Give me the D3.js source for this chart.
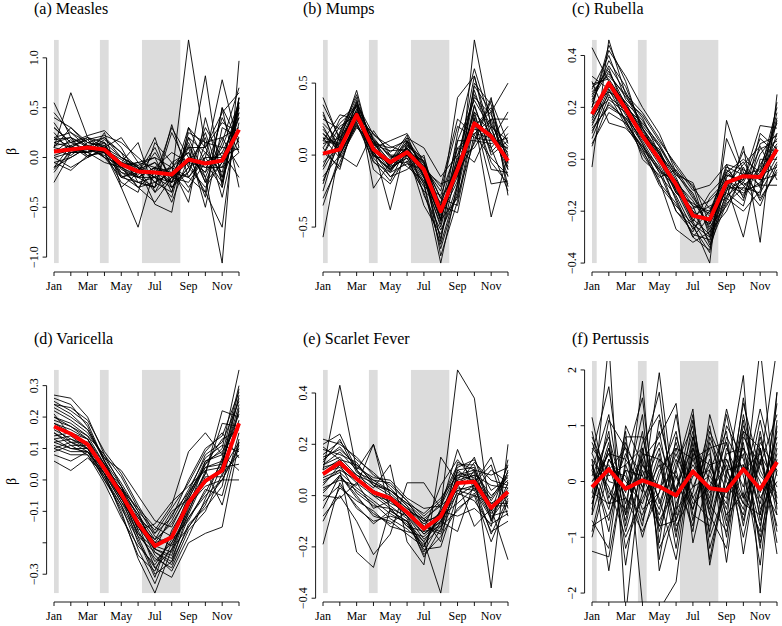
<!DOCTYPE html>
<html>
<head>
<meta charset="utf-8">
<script src="https://cdn.jsdelivr.net/npm/d3@7"></script>
<style>
  body { margin: 0; background: #fff; }
  svg { display: block; }
</style>
</head>
<body>
<svg id="chart" width="782" height="626" font-family="'Liberation Serif', 'Times New Roman', Times, 'DejaVu Serif', serif"></svg>
<script>
// ---------------- DATA ----------------
const months = ["Jan","Feb","Mar","Apr","May","Jun","Jul","Aug","Sep","Oct","Nov","Dec"];
const titles = ["(a) Measles","(b) Mumps","(c) Rubella","(d) Varicella","(e) Scarlet Fever","(f) Pertussis"];
// school holiday periods, in month units (Jan = 0)
const holidays = [[0, 0.28], [2.73, 3.25], [5.23, 7.51]];

const yTicks = [
  [-1, -0.5, 0, 0.5, 1],
  [-0.5, 0, 0.5],
  [-0.4, -0.2, 0, 0.2, 0.4],
  [-0.3, -0.2, -0.1, 0, 0.1, 0.2, 0.3],
  [-0.4, -0.2, 0, 0.2, 0.4],
  [-2, -1, 0, 1, 2]
];
const yTickLabels = [
  ["\u22121.0", "\u22120.5", "0.0", "0.5", "1.0"],
  ["\u22120.5", "0.0", "0.5"],
  ["\u22120.4", "\u22120.2", "0.0", "0.2", "0.4"],
  ["\u22120.3", "", "\u22120.1", "0.0", "0.1", "0.2", "0.3"],
  ["\u22120.4", "\u22120.2", "0.0", "0.2", "0.4"],
  ["\u22122", "\u22121", "0", "1", "2"]
];
// explicit y limits (null = range of the data)
const yLimits = [null, null, null, null, null, [-2, 2]];

const measlesMean = [0.06,0.08,0.10,0.08,-0.07,-0.14,-0.15,-0.17,-0.02,-0.06,-0.03,0.28];
const measles = [
  [0.10,0.65,0.20,0.10,-0.05,-0.20,-0.10,-0.25,0.00,-0.10,0.05,0.40],
  [0.55,0.20,0.10,0.05,-0.10,-0.30,-0.45,-0.20,1.18,0.10,-0.20,0.20],
  [-0.25,0.05,0.05,0.15,-0.20,-0.15,0.20,-0.30,-0.10,0.82,-0.30,0.55],
  [0.40,0.30,0.15,0.20,0.00,-0.10,-0.20,-0.10,-0.20,0.00,0.78,0.10],
  [0.05,0.10,0.05,0.10,-0.10,-0.20,-0.20,-0.40,0.20,-0.20,-1.06,0.97],
  [0.00,-0.10,0.00,0.25,-0.30,-0.70,-0.10,-0.15,-0.05,-0.35,-0.70,0.60],
  [0.30,0.15,0.20,0.05,-0.05,-0.10,-0.47,-0.55,0.30,0.10,0.45,0.65],
  [-0.10,0.00,0.10,0.00,-0.15,-0.25,-0.30,0.33,-0.20,-0.35,0.50,-0.30],
  [0.20,0.25,0.15,0.10,0.20,-0.05,0.00,-0.10,-0.45,0.40,-0.20,0.50],
  [0.10,0.05,0.08,0.05,-0.05,-0.15,0.10,-0.25,0.10,-0.50,0.30,0.20],
  [0.35,0.10,0.05,0.12,-0.12,-0.20,-0.30,0.25,-0.10,0.00,-0.25,0.45],
  [-0.15,0.08,0.12,0.15,0.00,-0.08,-0.25,-0.35,0.25,0.15,0.10,0.55],
  [0.15,0.20,0.00,0.08,-0.20,-0.12,-0.05,-0.20,-0.05,-0.10,-0.10,0.05],
  [0.05,0.12,0.18,0.00,-0.08,-0.30,-0.15,-0.10,0.05,-0.20,0.20,0.30],
  [0.25,0.05,0.10,0.20,0.05,-0.10,-0.20,-0.30,-0.15,0.30,0.00,0.10],
  [-0.05,-0.13,0.02,0.05,-0.25,-0.35,0.15,-0.05,-0.30,-0.05,-0.30,0.60],
  [0.12,0.15,0.22,0.27,0.10,-0.20,-0.10,-0.45,0.00,-0.15,0.40,0.05],
  [0.00,0.05,0.05,-0.05,-0.10,-0.05,-0.25,-0.15,-0.20,0.05,-0.15,0.50],
  [0.45,0.25,0.10,0.10,-0.05,0.15,-0.35,-0.20,0.15,-0.25,0.15,0.70],
  [0.08,0.02,0.15,0.12,-0.15,-0.20,-0.10,0.05,-0.05,0.20,-0.40,0.35],
  [-0.10,0.12,0.00,0.10,0.00,-0.10,-0.20,-0.25,0.30,-0.05,0.05,-0.20],
  [0.18,0.20,0.12,0.05,-0.30,-0.15,-0.05,-0.30,-0.10,-0.30,-0.05,0.55],
  [0.02,0.08,0.06,0.18,0.05,-0.25,-0.30,-0.10,0.10,0.10,0.35,0.25],
  [0.30,0.15,0.08,0.02,-0.10,-0.18,0.05,-0.20,-0.25,0.00,0.00,0.45],
  [-0.05,0.00,0.10,0.08,-0.02,-0.12,-0.35,-0.05,0.05,-0.40,0.50,0.15],
  [0.20,0.10,0.18,0.22,0.15,0.00,-0.15,-0.25,-0.15,0.25,-0.25,0.60],
  [0.10,0.30,0.12,0.00,-0.20,-0.25,-0.20,0.30,0.00,-0.15,0.10,0.08],
  [-0.12,0.05,0.05,0.10,-0.05,-0.08,0.00,-0.35,0.20,0.05,-0.10,0.40],
  [0.15,0.10,0.20,0.15,-0.18,-0.30,-0.25,-0.15,-0.35,0.15,0.20,-0.10],
  [0.05,0.18,0.02,0.05,-0.08,-0.05,-0.10,-0.18,0.12,-0.25,-0.05,0.52]
];

const mumpsMean = [0.01,0.04,0.28,0.04,-0.05,0.02,-0.10,-0.39,-0.10,0.22,0.13,-0.04];
const mumps = [
  [0.40,0.10,0.35,0.10,-0.05,0.05,-0.15,-0.45,-0.30,0.80,0.20,0.10],
  [-0.57,0.05,0.30,0.00,-0.10,0.00,-0.10,-0.40,-0.10,0.30,0.15,-0.05],
  [0.10,0.28,0.25,0.05,-0.38,0.10,-0.05,-0.35,0.40,0.55,0.05,-0.25],
  [0.20,0.00,-0.08,0.17,0.00,0.00,-0.20,-0.75,-0.20,0.25,-0.43,0.00],
  [-0.20,0.15,0.40,-0.23,-0.05,0.05,-0.10,-0.60,0.10,0.10,0.40,-0.28],
  [0.05,-0.10,0.30,0.05,0.10,0.15,-0.05,-0.30,-0.10,0.20,0.30,0.50],
  [0.15,0.05,0.25,0.10,-0.10,0.05,-0.15,-0.50,-0.05,0.45,0.10,0.05],
  [-0.10,0.10,0.45,0.00,-0.05,-0.05,-0.25,-0.35,-0.40,0.15,0.25,-0.10],
  [0.00,0.20,0.28,0.08,0.05,0.10,-0.10,-0.20,-0.15,0.35,0.00,0.10],
  [0.30,0.00,0.20,0.02,-0.15,-0.10,0.00,-0.45,0.05,-0.05,0.20,-0.15],
  [0.12,0.08,0.32,0.12,-0.02,0.03,-0.35,-0.55,-0.20,0.50,0.35,-0.05],
  [-0.30,-0.05,0.22,-0.05,-0.12,0.05,-0.08,-0.25,0.20,0.12,0.10,0.30],
  [0.08,0.12,0.38,0.06,-0.08,-0.02,-0.20,-0.65,-0.25,0.28,-0.05,-0.20],
  [0.18,0.03,0.27,0.15,0.02,0.12,0.05,-0.15,0.00,0.40,0.28,0.00],
  [-0.05,0.06,0.35,-0.10,-0.20,0.00,-0.12,-0.40,-0.05,0.18,0.15,-0.10],
  [0.25,0.18,0.30,0.03,-0.06,0.08,-0.06,-0.30,-0.35,0.22,0.05,0.20],
  [-0.15,0.00,0.24,0.10,0.00,-0.08,-0.18,-0.48,0.15,0.60,0.22,-0.02],
  [0.05,0.22,0.33,0.00,-0.10,0.06,-0.02,-0.38,-0.12,0.08,0.38,0.08],
  [0.35,0.12,0.28,0.08,-0.04,0.14,-0.15,-0.58,-0.08,0.30,-0.10,-0.12],
  [0.02,-0.08,0.26,-0.02,-0.15,-0.04,-0.22,-0.28,0.05,0.15,0.12,0.02],
  [-0.25,0.14,0.36,0.14,0.06,0.02,-0.04,-0.42,-0.18,0.48,0.30,-0.22],
  [0.15,0.02,0.21,0.04,-0.08,0.10,-0.28,-0.52,-0.28,0.10,0.08,0.12],
  [-0.08,0.16,0.42,0.02,-0.12,-0.06,-0.10,-0.36,0.10,0.38,0.18,-0.08],
  [0.10,0.07,0.29,0.07,0.03,0.04,-0.14,-0.44,-0.02,0.05,0.25,0.25],
  [-0.35,0.00,0.23,-0.04,-0.18,0.07,-0.06,-0.70,-0.32,0.26,-0.20,-0.18],
  [0.22,0.10,0.31,0.11,-0.01,0.00,-0.18,-0.33,-0.06,0.55,0.13,0.04],
  [0.00,0.25,0.34,0.03,-0.07,0.12,-0.12,-0.46,0.00,0.20,0.33,-0.06],
  [0.12,-0.02,0.19,0.09,-0.09,-0.02,-0.26,-0.62,-0.22,0.34,0.02,0.15],
  [-0.18,0.09,0.27,-0.01,-0.03,0.09,-0.08,-0.22,0.25,0.14,-0.02,-0.14],
  [0.28,0.04,0.37,0.05,-0.11,0.01,-0.16,-0.40,-0.15,0.42,0.20,0.06]
];

const rubellaMean = [0.174,0.294,0.194,0.09,0.0,-0.097,-0.217,-0.232,-0.09,-0.065,-0.068,0.039];
const rubella = [
  [0.43,0.30,0.22,0.10,0.02,-0.10,-0.20,-0.25,-0.05,-0.10,-0.05,0.05],
  [-0.03,0.46,0.25,0.12,0.00,-0.12,-0.25,-0.40,0.15,-0.05,-0.10,0.10],
  [0.30,0.14,0.12,0.05,-0.05,-0.08,-0.18,-0.20,-0.10,-0.30,0.00,0.00],
  [0.20,0.42,0.32,0.20,0.10,-0.05,-0.10,-0.30,-0.15,0.05,-0.32,0.25],
  [0.15,0.28,0.20,0.08,-0.02,-0.15,-0.30,-0.35,-0.12,-0.08,0.13,0.12],
  [0.25,0.35,0.18,0.06,-0.05,-0.20,-0.28,-0.15,-0.08,-0.12,-0.10,-0.10],
  [0.10,0.26,0.22,0.15,0.05,-0.05,-0.15,-0.22,-0.05,0.00,-0.05,0.20],
  [0.05,0.22,0.15,0.02,-0.08,-0.27,-0.32,-0.28,-0.20,-0.05,-0.15,-0.05],
  [0.28,0.32,0.25,0.18,0.08,-0.03,-0.12,-0.10,-0.02,-0.15,-0.02,0.08],
  [0.18,0.30,0.14,0.04,-0.10,-0.18,-0.25,-0.30,-0.10,-0.02,0.05,-0.08],
  [0.22,0.38,0.28,0.12,0.03,-0.08,-0.22,-0.18,-0.15,-0.20,-0.12,0.15],
  [0.12,0.20,0.16,0.08,0.04,-0.12,-0.20,-0.32,-0.06,-0.08,0.08,0.02],
  [0.32,0.27,0.20,0.14,0.06,-0.06,-0.09,-0.25,-0.12,0.03,-0.08,0.18],
  [0.08,0.24,0.19,0.00,-0.06,-0.14,-0.27,-0.20,-0.04,-0.10,-0.18,-0.02],
  [0.26,0.33,0.24,0.16,0.02,-0.09,-0.16,-0.26,-0.18,-0.06,-0.04,0.06],
  [0.16,0.29,0.17,0.07,-0.04,-0.11,-0.24,-0.34,-0.08,-0.14,0.02,0.10],
  [0.20,0.44,0.30,0.10,0.00,-0.16,-0.30,-0.22,-0.02,-0.04,-0.08,-0.06],
  [0.14,0.25,0.13,0.03,-0.07,-0.04,-0.14,-0.28,-0.14,-0.09,-0.14,0.22],
  [0.29,0.31,0.21,0.11,0.01,-0.13,-0.19,-0.16,-0.09,-0.16,0.10,0.04],
  [0.06,0.18,0.14,0.05,-0.03,-0.20,-0.26,-0.36,0.08,-0.07,-0.06,-0.03],
  [0.24,0.36,0.26,0.13,0.05,-0.07,-0.21,-0.24,-0.11,-0.11,-0.03,0.14],
  [0.17,0.23,0.18,0.09,-0.01,-0.10,-0.23,-0.29,-0.07,-0.01,-0.11,0.01],
  [0.27,0.40,0.23,0.17,0.07,-0.02,-0.11,-0.19,-0.13,-0.18,0.06,0.09],
  [0.11,0.21,0.16,0.06,-0.09,-0.17,-0.29,-0.31,-0.16,-0.03,-0.16,-0.04],
  [0.19,0.29,0.19,0.08,0.00,-0.13,-0.17,-0.21,-0.03,-0.06,-0.07,0.16],
  [0.23,0.34,0.21,0.12,0.02,-0.06,-0.13,-0.27,-0.10,-0.13,-0.09,0.03],
  [0.13,0.27,0.15,0.04,-0.04,-0.09,-0.24,-0.13,-0.06,-0.09,0.04,0.07],
  [0.21,0.26,0.20,0.10,0.03,-0.11,-0.18,-0.33,-0.17,-0.11,-0.13,-0.01]
];

const varicellaMean = [0.17,0.147,0.113,0.036,-0.045,-0.138,-0.21,-0.182,-0.072,-0.003,0.03,0.18];
const varicella = [
  [0.27,0.26,0.20,0.08,-0.02,-0.12,-0.20,-0.18,-0.05,0.05,0.10,0.35],
  [0.06,0.03,0.07,0.02,-0.06,-0.15,-0.22,-0.25,-0.12,-0.05,0.00,0.10],
  [0.25,0.22,0.18,0.06,-0.04,-0.18,-0.30,-0.26,-0.15,-0.08,0.05,0.29],
  [0.12,0.13,0.10,0.04,-0.02,-0.10,-0.16,-0.08,0.09,0.15,0.08,0.03],
  [0.20,0.18,0.14,0.05,-0.05,-0.20,-0.28,-0.31,-0.20,-0.17,-0.15,0.12],
  [0.15,0.12,0.10,0.00,-0.08,-0.22,-0.33,-0.20,-0.10,0.02,0.22,0.20],
  [0.23,0.20,0.16,0.07,0.03,-0.05,-0.13,-0.15,-0.04,0.08,0.12,0.25],
  [0.10,0.08,0.08,0.01,-0.10,-0.25,-0.36,-0.22,-0.08,-0.02,0.00,0.00],
  [0.18,0.16,0.13,0.03,-0.06,-0.14,-0.19,-0.10,-0.06,0.04,0.06,0.22],
  [0.13,0.10,0.09,0.02,-0.07,-0.17,-0.25,-0.28,-0.16,-0.10,0.02,0.08],
  [0.24,0.23,0.19,0.09,0.02,-0.08,-0.17,-0.12,0.00,0.10,0.14,0.28],
  [0.09,0.11,0.08,-0.01,-0.12,-0.21,-0.27,-0.19,-0.13,-0.03,-0.05,0.15],
  [0.21,0.14,0.12,0.04,-0.03,-0.11,-0.22,-0.24,-0.09,0.06,0.09,0.18],
  [0.14,0.15,0.11,0.05,-0.04,-0.16,-0.14,-0.07,-0.02,0.03,0.04,0.05],
  [0.26,0.24,0.17,0.06,-0.05,-0.13,-0.24,-0.29,-0.18,-0.06,0.07,0.26],
  [0.11,0.09,0.09,0.00,-0.09,-0.19,-0.31,-0.16,-0.07,0.00,0.03,0.12],
  [0.19,0.17,0.14,0.08,0.01,-0.09,-0.18,-0.21,-0.11,0.01,0.01,0.19],
  [0.16,0.13,0.11,0.03,-0.03,-0.13,-0.20,-0.13,-0.03,0.07,0.11,0.09],
  [0.22,0.19,0.15,0.07,-0.01,-0.10,-0.23,-0.27,-0.14,-0.09,-0.02,0.23],
  [0.08,0.06,0.09,0.02,-0.11,-0.24,-0.29,-0.17,-0.06,0.05,0.13,0.16],
  [0.17,0.12,0.12,0.04,-0.05,-0.15,-0.21,-0.23,-0.08,-0.01,0.04,0.27],
  [0.13,0.14,0.10,0.03,-0.06,-0.12,-0.17,-0.09,-0.01,0.09,0.15,0.07],
  [0.24,0.21,0.16,0.06,-0.02,-0.16,-0.26,-0.20,-0.12,-0.04,0.06,0.21],
  [0.12,0.10,0.10,0.01,-0.08,-0.18,-0.23,-0.26,-0.10,0.03,-0.08,0.13],
  [0.20,0.17,0.13,0.05,-0.04,-0.11,-0.19,-0.14,-0.05,0.06,0.08,0.30],
  [0.15,0.11,0.11,0.02,-0.07,-0.14,-0.28,-0.22,-0.15,-0.07,0.00,0.11],
  [0.18,0.15,0.13,0.04,-0.03,-0.09,-0.15,-0.18,-0.07,0.02,0.18,0.17],
  [0.10,0.12,0.09,0.03,-0.05,-0.17,-0.22,-0.11,-0.04,0.04,0.05,0.24]
];

const scarletMean = [0.084,0.129,0.065,0.013,-0.01,-0.065,-0.129,-0.081,0.049,0.054,-0.048,0.015];
const scarlet = [
  [0.10,0.43,0.10,0.00,-0.05,-0.08,-0.15,-0.10,0.05,0.08,-0.05,0.00],
  [-0.19,0.05,-0.05,-0.10,-0.08,-0.10,-0.20,-0.05,0.49,0.38,-0.10,0.05],
  [0.20,0.24,0.10,0.20,0.00,-0.05,-0.10,-0.08,0.10,0.05,0.15,-0.05],
  [0.05,0.10,-0.22,-0.28,-0.05,-0.12,-0.18,-0.38,0.00,0.10,-0.36,0.20],
  [0.12,0.15,0.08,0.03,0.12,-0.18,-0.27,0.15,0.05,-0.12,-0.05,-0.25],
  [-0.08,0.00,-0.10,-0.23,-0.15,0.05,0.05,-0.05,0.18,0.02,0.10,0.05],
  [0.15,0.18,0.12,0.05,0.02,-0.04,-0.14,-0.12,0.08,0.10,-0.02,0.08],
  [0.00,-0.01,0.05,-0.05,-0.02,-0.08,-0.22,-0.10,-0.14,0.05,0.12,-0.08],
  [0.22,0.20,0.15,0.08,0.04,-0.02,-0.08,-0.02,0.12,0.12,-0.06,0.12],
  [0.08,0.12,0.06,0.02,-0.03,-0.06,-0.12,-0.15,0.02,0.00,-0.18,-0.02],
  [-0.05,0.08,0.00,-0.08,-0.10,-0.15,-0.20,-0.06,0.06,0.08,0.04,0.03],
  [0.13,0.22,0.09,0.06,0.02,-0.03,-0.09,-0.18,0.10,0.11,-0.10,0.10],
  [0.03,0.06,0.04,0.20,-0.06,-0.10,-0.18,-0.08,-0.03,0.03,-0.08,-0.06],
  [0.18,0.16,0.13,0.04,0.00,-0.07,-0.13,0.04,0.14,0.06,-0.03,0.01],
  [0.10,0.14,0.07,0.01,-0.04,-0.09,-0.24,-0.13,0.04,0.13,0.06,0.04],
  [-0.10,0.03,-0.02,-0.06,-0.12,-0.14,-0.16,-0.10,0.01,-0.02,-0.12,0.14],
  [0.14,0.19,0.11,0.07,0.06,-0.01,-0.05,-0.04,0.09,0.07,-0.04,-0.04],
  [0.06,0.09,0.03,-0.02,-0.07,-0.11,-0.21,-0.20,0.00,0.04,-0.07,0.02],
  [0.11,0.13,0.08,0.05,0.01,-0.05,-0.11,-0.07,0.07,0.09,0.00,0.06],
  [0.02,0.07,0.02,-0.03,-0.09,-0.13,-0.19,-0.12,-0.06,0.01,-0.14,-0.10],
  [0.16,0.21,0.14,0.09,0.03,-0.04,-0.10,-0.03,0.11,0.14,0.02,0.07],
  [0.09,0.11,0.05,0.00,-0.02,-0.07,-0.15,-0.09,0.03,0.02,-0.09,0.00],
  [-0.02,0.04,-0.04,-0.11,-0.06,-0.10,-0.23,-0.16,-0.05,0.00,-0.03,-0.03],
  [0.12,0.17,0.10,0.04,0.02,-0.03,-0.07,-0.01,0.08,0.06,-0.01,0.09],
  [0.07,0.10,0.06,0.02,-0.01,-0.08,-0.17,-0.11,0.06,0.15,-0.06,0.03],
  [0.04,0.12,0.01,-0.04,-0.05,-0.12,-0.14,-0.06,-0.08,-0.05,-0.11,-0.07],
  [0.19,0.14,0.12,0.06,0.05,-0.02,-0.12,-0.14,0.13,0.10,0.08,0.11],
  [0.01,0.08,-0.01,-0.07,-0.11,-0.06,-0.09,-0.04,0.02,0.04,-0.15,-0.01]
];

const pertussisMean = [-0.10,0.22,-0.13,0.02,-0.09,-0.25,0.18,-0.12,-0.16,0.22,-0.14,0.35];
const pertussis = [
  [1.15,-0.30,0.50,-0.20,1.95,-0.50,0.80,-0.40,1.20,-0.30,2.40,-0.50],
  [-1.25,-1.35,0.30,0.60,-0.80,0.20,1.30,-1.50,0.10,1.90,-2.00,1.60],
  [0.50,1.70,-0.60,1.80,-1.60,-0.40,0.40,0.60,-1.45,0.80,0.30,2.40],
  [-0.60,2.50,-2.40,0.40,0.80,1.40,-1.10,0.20,0.90,-1.30,0.60,-1.10],
  [0.30,-0.50,0.90,-2.20,-2.30,-1.80,0.60,-0.30,1.30,0.10,-1.00,0.40],
  [-0.20,0.90,-1.50,0.50,1.60,-0.80,-0.20,1.00,-0.70,1.50,-0.50,0.00],
  [0.80,0.10,0.30,-0.50,-0.20,1.20,-0.60,-0.80,0.40,-0.40,1.10,-0.30],
  [-0.90,0.40,-0.20,1.20,-1.40,0.30,1.00,-1.20,-0.10,0.60,-0.60,1.40],
  [0.20,-0.70,0.70,-0.10,0.60,-0.90,0.20,0.50,-1.00,1.20,-0.20,0.80],
  [-0.40,0.60,-0.90,0.20,-0.50,0.60,-0.40,-0.10,0.70,-0.80,0.90,-0.60],
  [0.60,0.20,0.10,-0.80,1.10,-0.20,0.90,-1.40,0.20,0.30,-1.50,1.00],
  [-0.70,-1.20,1.00,0.30,-0.30,-1.40,0.50,0.30,-0.50,1.00,0.10,-0.20],
  [0.10,0.80,-0.40,0.90,-0.90,0.10,-0.80,0.80,0.00,-0.60,0.70,0.20],
  [0.40,-0.10,-1.00,-0.30,0.30,-0.60,1.10,-0.60,1.00,0.40,-0.80,0.60],
  [-0.10,0.50,0.40,1.50,-1.10,0.80,-0.10,0.10,-0.40,1.40,0.20,-0.40],
  [0.90,-0.40,-0.30,-0.60,0.40,-1.20,0.70,-0.90,0.60,-0.10,1.30,0.10],
  [-0.50,1.10,0.60,0.10,-0.60,0.40,-0.50,0.40,-0.80,0.70,-1.20,1.10],
  [0.00,0.30,-0.70,0.70,1.20,-0.30,0.30,-0.20,0.30,-1.00,0.40,-0.80],
  [-0.80,-0.60,0.20,-1.00,0.10,0.90,-0.70,0.70,-0.20,0.90,-0.30,0.30],
  [0.70,0.00,-0.10,0.40,-0.70,-0.10,0.60,-0.50,0.80,0.20,0.50,-0.10],
  [-0.30,0.70,-1.20,-0.20,0.90,-0.70,0.10,0.20,-0.60,-0.20,-0.90,1.60],
  [0.30,-0.90,0.80,0.80,-0.40,0.50,-0.30,-0.70,0.50,0.60,0.00,-0.60],
  [-0.60,0.40,0.00,-0.40,0.50,-1.00,0.80,0.00,-0.30,1.10,-0.70,0.50],
  [0.50,-0.20,-0.50,0.30,-0.10,0.20,-0.90,1.20,0.10,-0.50,0.80,-0.40],
  [-1.00,0.20,0.60,-0.70,0.20,0.60,0.40,-0.40,-0.90,0.30,-0.40,0.90],
  [0.20,1.20,-0.80,0.60,-1.20,-0.50,-0.10,0.60,0.70,-0.70,0.60,-0.90],
  [-0.20,-0.40,0.20,0.10,0.70,-0.20,1.20,-1.00,-0.10,0.50,-1.10,0.20],
  [0.00,0.50,-0.30,-0.90,-0.20,0.70,-0.30,0.30,0.40,-0.30,0.30,1.20],
  [0.40,-1.60,0.40,-0.10,-0.80,-0.70,0.50,-0.60,-1.20,0.90,0.60,-1.30],
  [-0.40,0.60,-0.60,0.50,0.40,0.10,-0.50,0.90,0.20,-0.40,-0.60,0.70]
];

const seriesLines = [measles, mumps, rubella, varicella, scarlet, pertussis];
const seriesMeans = [measlesMean, mumpsMean, rubellaMean, varicellaMean, scarletMean, pertussisMean];

// ---------------- DRAWING ----------------
const FONT = "'Liberation Serif', 'Times New Roman', Times, 'DejaVu Serif', serif";
const svg = d3.select("#chart");
const colStep = 269, rowStep = 330;
const janX0 = 54, decX0 = 239;
const regionTop0 = 31, regionBottom0 = 272;

seriesLines.forEach((lines, p) => {
  const col = p % 3, row = Math.floor(p / 3);
  const x = d3.scaleLinear().domain([0, 11]).range([janX0 + col * colStep, decX0 + col * colStep]);
  const top = regionTop0 + row * rowStep, bottom = regionBottom0 + row * rowStep;
  const leftX = x(-0.44), rightX = x(11.44);

  const all = lines.flat().concat(seriesMeans[p]);
  const dataExt = d3.extent(all);
  const lim = yLimits[p] || dataExt;
  const pad = (lim[1] - lim[0]) * 0.04;
  const y = d3.scaleLinear().domain([lim[0] - pad, lim[1] + pad]).range([bottom, top]);

  const g = svg.append("g");
  const clipId = "clip" + p;
  g.append("clipPath").attr("id", clipId).append("rect")
    .attr("x", leftX).attr("y", top).attr("width", rightX - leftX).attr("height", bottom - top);

  const plot = g.append("g").attr("clip-path", `url(#${clipId})`);
  const gTop = Math.max(y(dataExt[1]), top), gBot = Math.min(y(dataExt[0]), bottom);
  plot.selectAll("rect.hol").data(holidays).enter().append("rect")
    .attr("class", "hol")
    .attr("x", d => x(d[0])).attr("width", d => x(d[1]) - x(d[0]))
    .attr("y", gTop).attr("height", gBot - gTop)
    .attr("fill", "#dcdcdc");

  const line = d3.line().x((d, i) => x(i)).y(d => y(d));
  plot.selectAll("path.prov").data(lines).enter().append("path")
    .attr("class", "prov")
    .attr("d", line).attr("fill", "none")
    .attr("stroke", "#000").attr("stroke-width", 0.9).attr("stroke-linejoin", "miter");
  plot.append("path").datum(seriesMeans[p])
    .attr("d", line).attr("fill", "none")
    .attr("stroke", "#ff0000").attr("stroke-width", 4).attr("stroke-linejoin", "round");

  // x axis
  const ax = g.append("g");
  ax.append("line").attr("x1", x(0)).attr("x2", x(11)).attr("y1", bottom).attr("y2", bottom)
    .attr("stroke", "#000").attr("stroke-width", 0.9);
  months.forEach((m, i) => {
    ax.append("line").attr("x1", x(i)).attr("x2", x(i)).attr("y1", bottom).attr("y2", bottom + 4)
      .attr("stroke", "#000").attr("stroke-width", 0.9);
    if (i % 2 === 0) {
      ax.append("text").attr("x", x(i)).attr("y", bottom + 18)
        .attr("font-family", FONT)
        .attr("text-anchor", "middle").attr("font-size", 12).text(m);
    }
  });

  // y axis
  const ticks = yTicks[p];
  const ay = g.append("g");
  ay.append("line").attr("x1", leftX).attr("x2", leftX)
    .attr("y1", y(ticks[0])).attr("y2", y(ticks[ticks.length - 1]))
    .attr("stroke", "#000").attr("stroke-width", 0.9);
  ticks.forEach((t, i) => {
    ay.append("line").attr("x1", leftX - 4).attr("x2", leftX).attr("y1", y(t)).attr("y2", y(t))
      .attr("stroke", "#000").attr("stroke-width", 0.9);
    ay.append("text").attr("transform", `translate(${leftX - 9},${y(t)}) rotate(-90)`)
      .attr("font-family", FONT)
      .attr("text-anchor", "middle").attr("font-size", 12).text(yTickLabels[p][i]);
  });

  // title
  g.append("text").attr("x", x(0) - 20).attr("y", top - 17)
    .attr("font-family", FONT)
    .attr("font-size", 16).text(titles[p]);

  // y label
  if (col === 0) {
    g.append("text").attr("transform", `translate(16,${(top + bottom) / 2}) rotate(-90)`)
      .attr("font-family", FONT)
      .attr("text-anchor", "middle").attr("font-size", 14).text("β");
  }
});
</script>
</body>
</html>
